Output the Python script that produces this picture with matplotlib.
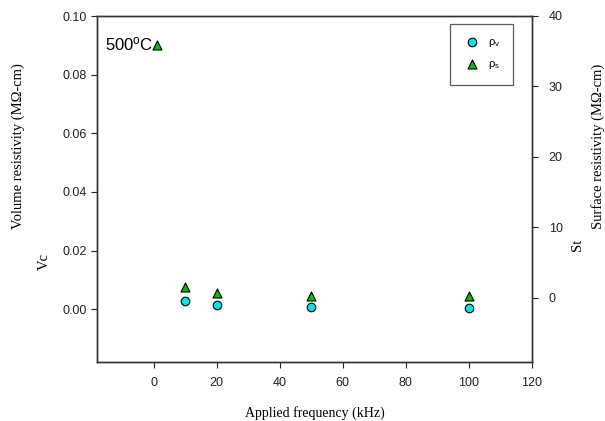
import matplotlib
matplotlib.use("Agg")
import matplotlib.pyplot as plt
from matplotlib.transforms import IdentityTransform

freq_v = [10, 20, 50, 100]
rho_v = [0.0028, 0.0014, 0.0006, 0.0004]
freq_s = [1, 10, 20, 50, 100]
rho_s = [35.9, 1.5, 0.7, 0.3, 0.2]

xticks = [0, 20, 40, 60, 80, 100, 120]
yticks_l = [0.00, 0.02, 0.04, 0.06, 0.08, 0.10]
yticks_r = [0, 10, 20, 30, 40]

plt.rcParams['font.family'] = ['Liberation Sans', 'DejaVu Sans']
plt.rcParams['mathtext.fontset'] = 'custom'
plt.rcParams['mathtext.rm'] = 'Liberation Sans'
plt.rcParams['mathtext.it'] = 'Liberation Sans'

W, H = 605, 421
fig = plt.figure(figsize=(6.05, 4.21), dpi=100)
ax = fig.add_axes([97/W, 1-362/H, (532-97)/W, (362-16)/H])
ax2 = ax.twinx()

h1 = ax.scatter(freq_v, rho_v, s=38, marker='o', facecolor='#00E5E5', edgecolor='black', linewidth=0.8, zorder=3)
h2 = ax2.scatter(freq_s, rho_s, s=42, marker='^', facecolor='#00C000', edgecolor='black', linewidth=0.8, zorder=3)

ax.set_xlim(-18, 120)
ax.set_ylim(-0.018, 0.10)
ax2.set_ylim(-9.1, 40)
ax.set_xticks(xticks)
ax.set_yticks(yticks_l)
ax.set_yticklabels([f"{v:.2f}" for v in yticks_l])
ax2.set_yticks(yticks_r)

for a in (ax, ax2):
    a.tick_params(direction='out', length=4, width=0.8, labelsize=9, colors='#222222')
    for s in a.spines.values():
        s.set_linewidth(1.0)
        s.set_color('#333333')
ax.tick_params(axis='x', pad=7)
ax2.tick_params(axis='y', pad=8)

serif = ['Liberation Serif', 'DejaVu Serif']
ax.set_xlabel('Applied frequency (kHz)', family=serif, fontsize=10, labelpad=12)
fig.text(18/W, 1-146/H, 'Volume resistivity (MΩ-cm)', family=serif, fontsize=10.5,
         rotation=90, ha='center', va='center')
fig.text(598/W, 1-146/H, 'Surface resistivity (MΩ-cm)', family=serif, fontsize=10.5,
         rotation=90, ha='center', va='center')
fig.text(44/W, 1-262/H, 'Vc', family=serif, fontsize=10.5, rotation=90, ha='center', va='center')
fig.text(577/W, 1-245/H, 'St', family=serif, fontsize=10.5, rotation=90, ha='center', va='center')

fig.text(105/W, 1-44/H, '500$^{\\mathrm{o}}$C', fontsize=12, va='center', ha='left')

leg = ax2.legend([h1, h2], ['ρ$_{\\mathrm{v}}$', 'ρ$_{\\mathrm{s}}$'], loc='upper left',
                 bbox_to_anchor=(450/W, 1-24/H), bbox_transform=fig.transFigure,
                 frameon=True, fancybox=False, fontsize=8, handletextpad=0.6,
                 handlelength=1.6, borderpad=1.2, labelspacing=0.9, borderaxespad=0)
leg.get_frame().set_edgecolor('#333333')
leg.get_frame().set_linewidth(0.9)

fig.savefig('out.png', dpi=100)
